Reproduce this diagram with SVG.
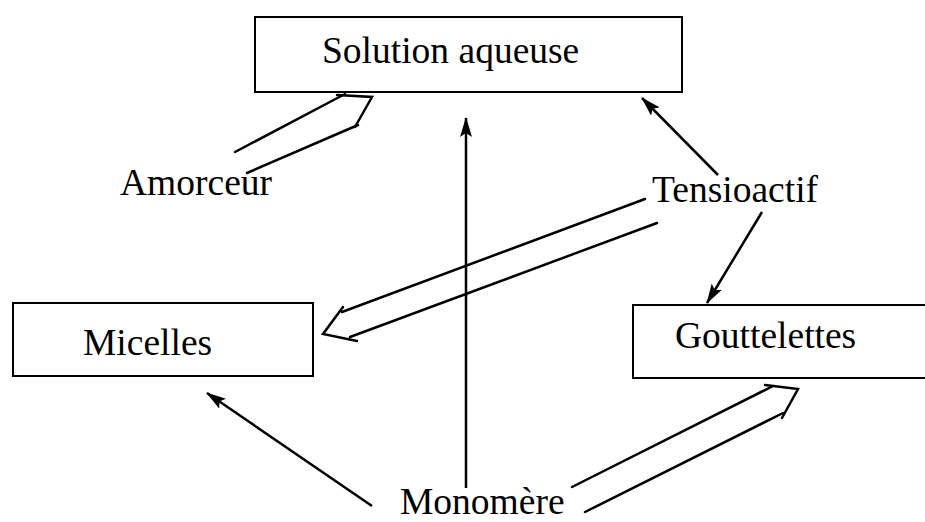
<svg xmlns="http://www.w3.org/2000/svg" width="925" height="522" viewBox="0 0 925 522">
<style>
.box{fill:#fff;stroke:#000;stroke-width:2}
.lbl{font-family:"Liberation Serif","Times New Roman",serif;font-size:37.5px;fill:#000}
.ln{fill:none;stroke:#000;stroke-width:2.5;stroke-linecap:round;stroke-linejoin:miter}
.ar{fill:none;stroke:#000;stroke-width:2.5;marker-end:url(#ah)}
</style>
<defs>
<marker id="ah" viewBox="0 0 20 12" refX="19" refY="6" markerWidth="20" markerHeight="12" markerUnits="userSpaceOnUse" orient="auto">
<path d="M0,0 L20,6 L0,12 L4,6 Z" fill="#000"/>
</marker>
</defs>
<rect width="925" height="522" fill="#fff"/>
<g id="solution">
<rect class="box" x="255" y="17" width="427" height="75"/>
<text class="lbl" x="322" y="63">Solution aqueuse</text>
</g>
<g id="micelles">
<rect class="box" x="13" y="303" width="300" height="73"/>
<text class="lbl" x="83" y="355">Micelles</text>
</g>
<g id="gouttelettes">
<rect class="box" x="633" y="305" width="300" height="73"/>
<text class="lbl" x="675" y="348">Gouttelettes</text>
</g>
<g id="amorceur">
<text class="lbl" x="120" y="195">Amorceur</text>
</g>
<g id="tensioactif">
<text class="lbl" x="652" y="202">Tensioactif</text>
</g>
<g id="monomere">
<text class="lbl" x="400" y="514">Monomère</text>
</g>
<g id="connectors">
<line class="ar" x1="718" y1="175" x2="642" y2="98"/>
<line class="ar" x1="762" y1="212" x2="707" y2="303"/>
<line class="ar" x1="466" y1="488" x2="466" y2="118"/>
<line class="ar" x1="372" y1="506" x2="207" y2="393"/>
<line class="ln" x1="235" y1="152" x2="345" y2="94"/>
<line class="ln" x1="247" y1="173" x2="358" y2="125"/>
<polyline class="ln" points="337,95 372,97 355,127"/>
<line class="ln" x1="645" y1="199" x2="342" y2="312"/>
<line class="ln" x1="657" y1="223" x2="350" y2="337"/>
<polyline class="ln" points="343,307 323,334 357,341"/>
<line class="ln" x1="572" y1="487" x2="773" y2="386"/>
<line class="ln" x1="585" y1="512" x2="783" y2="413"/>
<polyline class="ln" points="765,385 798,389 782,418"/>
</g>
</svg>
